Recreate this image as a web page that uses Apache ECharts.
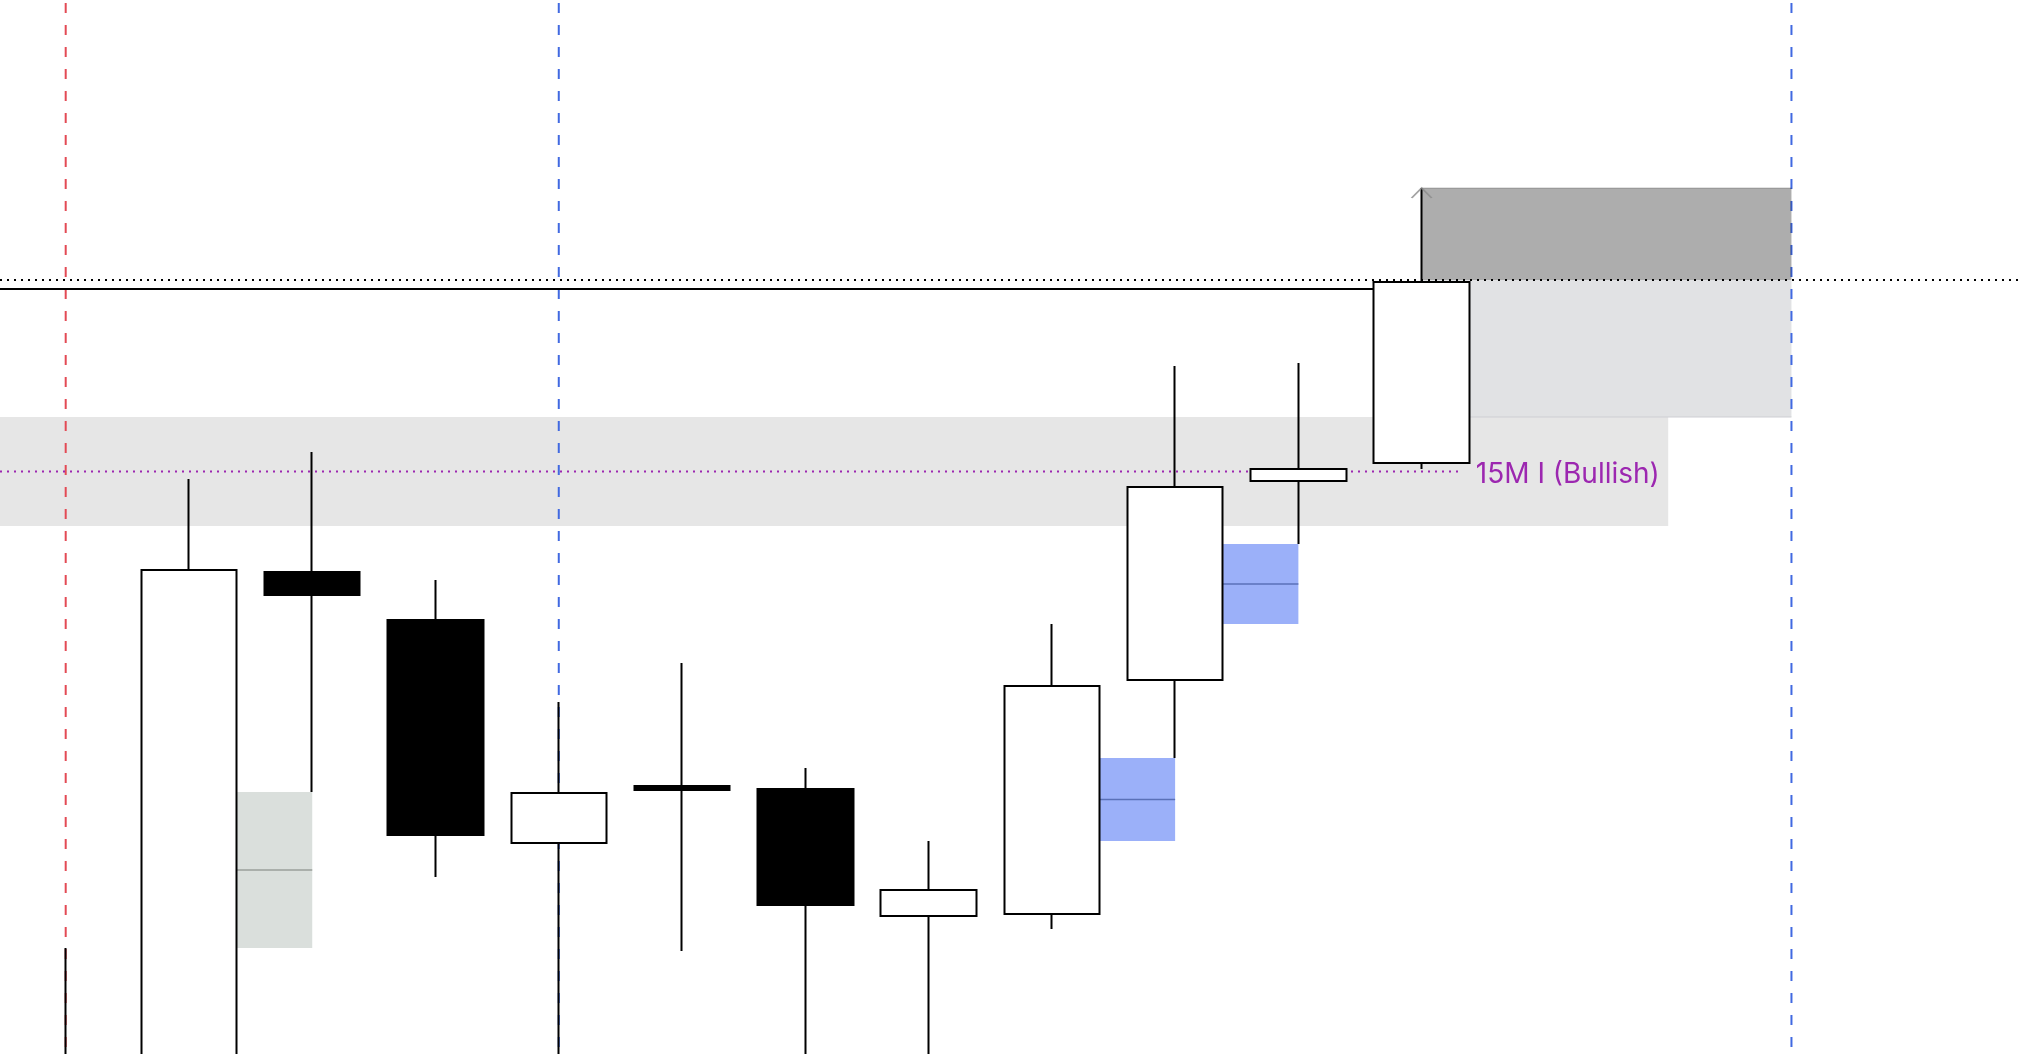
<!DOCTYPE html>
<html><head><meta charset="utf-8">
<script src="https://cdn.jsdelivr.net/npm/echarts@6/dist/echarts.min.js"></script>
<style>html,body{margin:0;padding:0;background:#fff;overflow:hidden}#chart{width:2020px;height:1054px}</style>
</head><body><div id="chart"></div>
<script>
// ---- candles (bar index, OHLC) ----
const barIndex = [0, 1, 2, 3, 4, 5, 6, 7, 8, 9, 10, 11];
const opens  = [20981, 20983.5, 21120.5, 21108.5, 21052.75, 21067, 21066.25, 21034.5, 21035, 21093.5, 21143.25, 21147.75];
const closes = [20996, 21121, 21114.75, 21054.75, 21065.25, 21066, 21037.25, 21041, 21092, 21141.75, 21146.25, 21193];
const lows   = [20973.5, 20973.5, 21065.5, 21044.25, 20988.5, 21025.75, 20991, 20986, 21031.25, 21074, 21127.5, 21146.25];
const highs  = [21026.5, 21143.75, 21150.5, 21118.5, 21088, 21097.75, 21071.5, 21053.25, 21107.5, 21172, 21172.75, 21216.5];

// ---- fair value gaps ----
const fvgFromBar = [1, 8, 9];
const fvgToBar   = [2, 9, 10];
const fvgTop     = [21065.5, 21074, 21127.5];
const fvgBottom  = [21026.5, 21053.25, 21107.5];
const fvgKind    = ['neutral', 'bullish', 'bullish'];

// ---- session separators ----
const sessionLineBars  = [0, 4, 14];
const sessionLineKinds = ['red', 'blue', 'blue'];

// ---- levels & zones ----
const dottedLevel = 21193.5;
const solidLevel = 21191.25;
const solidLevelEndBar = 11;
const zoneTop = 21159.25;
const zoneBottom = 21132;
const zoneEndBar = 13;
const zoneLineEndBar = 11.31;
const zoneLabel = '15M I (Bullish)';
const upperBoxFromBar = 11, upperBoxToBar = 14, upperBoxTop = 21216.5, upperBoxBottom = 21193.5;
const lowerBoxFromBar = 11, lowerBoxToBar = 14, lowerBoxTop = 21193.5, lowerBoxBottom = 21159.25;

// ---- axis ranges ----
const xMin = -0.533, xMax = 15.854;
const yMin = 21000, yMax = 21263.5;

const BODY_W = 96;
const chart = echarts.init(document.getElementById('chart'), null, {renderer: 'canvas'});

function one(z, render) {
  return {type: 'custom', z: z, silent: true, animation: false, clip: false,
    data: [[0, yMin]], renderItem: render};
}
function hline(api, y, x0, x1, style) {
  const a = api.coord([x0, y]), b = api.coord([x1, y]);
  return {type: 'line', shape: {x1: a[0], y1: a[1], x2: b[0], y2: b[1]}, style: style};
}
function box(api, x0, x1, top, bottom, dx0, fill) {
  const a = api.coord([x0, top]), b = api.coord([x1, bottom]);
  return {type: 'rect', shape: {x: a[0] + dx0, y: a[1], width: b[0] - a[0] - dx0, height: b[1] - a[1]}, style: {fill: fill}};
}

const sessionColors = {red: '#E34A55', blue: '#4169E1'};
const fvgFill = {neutral: '#DADFDC', bullish: '#9BB0F9'};
const fvgMid = {neutral: '#9A9F9B', bullish: '#5A70B8'};

const series = [
  // zone band
  one(1, function (params, api) {
    return {type: 'group', children: [
      box(api, xMin, zoneEndBar, zoneTop, zoneBottom, 0, '#E6E6E6'),
      box(api, lowerBoxFromBar, lowerBoxToBar, lowerBoxTop, lowerBoxBottom, 0, '#E1E2E4'),
      hline(api, lowerBoxBottom, lowerBoxFromBar, lowerBoxToBar, {stroke: '#CDCED3', lineWidth: 1})
    ]};
  }),
  // session separators
  one(2, function (params, api) {
    const ch = sessionLineBars.map(function (b, i) {
      const top = api.coord([b, yMax]), bot = api.coord([b, yMin]);
      return {type: 'line', shape: {x1: top[0], y1: top[1], x2: bot[0], y2: bot[1]},
        style: {stroke: sessionColors[sessionLineKinds[i]], lineWidth: 2, lineDash: [10, 12], lineDashOffset: 19}};
    });
    return {type: 'group', children: ch};
  }),
  // levels
  one(3, function (params, api) {
    const mid = (zoneTop + zoneBottom) / 2;
    const endPt = api.coord([zoneLineEndBar, mid]);
    const leftEdge = api.coord([solidLevelEndBar, solidLevel]);
    const s = hline(api, solidLevel, xMin, solidLevelEndBar, {stroke: '#000', lineWidth: 2});
    s.shape.x2 = leftEdge[0] - BODY_W / 2;
    return {type: 'group', children: [
      hline(api, mid, xMin, zoneLineEndBar, {stroke: '#9C27B0', lineWidth: 2, lineDash: [2, 5]}),
      s,
      hline(api, dottedLevel, xMin, xMax, {stroke: '#000', lineWidth: 2, lineDash: [2, 5]}),
      {type: 'text', style: {text: zoneLabel, x: endPt[0] + 16, y: endPt[1] + 3, fill: '#9C27B0',
        font: '28px Inter', align: 'left', verticalAlign: 'middle'}}
    ]};
  }),
  // FVG boxes
  one(4, function (params, api) {
    const ch = [];
    fvgFromBar.forEach(function (b, i) {
      ch.push(box(api, b, fvgToBar[i], fvgTop[i], fvgBottom[i], BODY_W / 2, fvgFill[fvgKind[i]]));
      const m = (fvgTop[i] + fvgBottom[i]) / 2;
      const l = hline(api, m, b, fvgToBar[i], {stroke: fvgMid[fvgKind[i]], lineWidth: 1.5});
      l.shape.x1 += BODY_W / 2;
      ch.push(l);
    });
    return {type: 'group', children: ch};
  }),
  // candles
  {
    type: 'candlestick', z: 5, silent: true, animation: false,
    data: barIndex.map(function (x, i) { return [x, opens[i], closes[i], lows[i], highs[i]]; }),
    encode: {x: 0, y: [1, 2, 3, 4]},
    barWidth: BODY_W,
    itemStyle: {color: '#fff', color0: '#000', borderColor: '#000', borderColor0: '#000', borderWidth: 2}
  },
  // upper box (semi-transparent, above candles)
  one(6, function (params, api) {
    return {type: 'group', children: [
      box(api, upperBoxFromBar, upperBoxToBar, upperBoxTop, upperBoxBottom, 0, 'rgba(0,0,0,0.32)'),
      hline(api, upperBoxTop, upperBoxFromBar, upperBoxToBar, {stroke: 'rgba(0,0,0,0.22)', lineWidth: 1})
    ]};
  }),
  // marker at last high
  {
    type: 'scatter', z: 7, silent: true, animation: false,
    data: [[barIndex[11], highs[11]]],
    symbol: 'path://M0,10L10,0L20,10', symbolSize: [20, 10], symbolOffset: [0, 5],
    itemStyle: {color: 'rgba(0,0,0,0)', borderColor: '#8C8C8C', borderWidth: 1.5}
  }
];

chart.setOption({
  animation: false,
  backgroundColor: '#ffffff',
  grid: {left: 0, right: 0, top: 0, bottom: 0},
  xAxis: {type: 'value', min: xMin, max: xMax, show: false},
  yAxis: {type: 'value', min: yMin, max: yMax, show: false, scale: true},
  series: series
});
</script>
</body></html>
